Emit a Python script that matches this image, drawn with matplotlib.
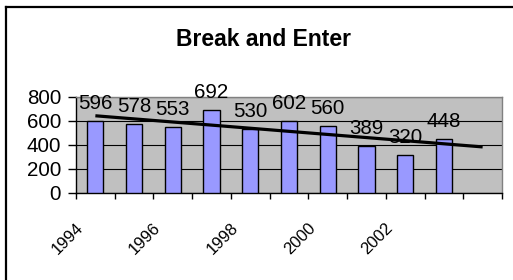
import matplotlib
matplotlib.use("Agg")
import matplotlib.pyplot as plt
import numpy as np
from matplotlib.lines import Line2D

years = [1994, 1995, 1996, 1997, 1998, 1999, 2000, 2001, 2002, 2003]
values = [596, 578, 553, 692, 530, 602, 560, 389, 320, 448]
year_labels = ["1994", "1996", "1998", "2000", "2002"]
yticks = [0, 200, 400, 600, 800]

plt.rcParams['font.family'] = ['Liberation Sans', 'DejaVu Sans']

W, H = 513, 280
fig = plt.figure(figsize=(W / 100, H / 100), dpi=100)
fig.patch.set_facecolor('white')

# outer chart border (only left and top visible)
fig.add_artist(Line2D([5.5 / W, 5.5 / W], [0, 1 - 6.5 / H], transform=fig.transFigure, color='black', lw=1.6))
fig.add_artist(Line2D([5.5 / W, 1], [1 - 6.5 / H, 1 - 6.5 / H], transform=fig.transFigure, color='black', lw=1.6))

ax = fig.add_axes([76 / W, 1 - 193 / H, (502 - 76) / W, (193 - 97) / H])
ax.set_facecolor('#C0C0C0')

x = np.arange(len(values))
ax.bar(x, values, width=0.42, color='#9999FF', edgecolor='black', linewidth=1.0, zorder=3)

# linear trendline with one period forward forecast
coef = np.polyfit(x, values, 1)
xt = np.array([0, len(values)])
ax.plot(xt, np.polyval(coef, xt), color='black', lw=2.3, zorder=4, solid_capstyle='butt')

for xi, v in zip(x, values):
    ax.annotate(str(v), xy=(xi, v), xytext=(0, 12), textcoords='offset pixels',
                ha='center', va='baseline', fontsize=14.8, zorder=5, annotation_clip=False)

ax.set_xlim(-0.5, len(values) + 0.5)
ax.set_ylim(0, 800)
ax.set_yticks(yticks)
ax.set_yticklabels([str(t) for t in yticks])
ax.yaxis.grid(True, color='black', lw=0.8, zorder=1)
ax.set_axisbelow(True)

ax.set_xticks(np.arange(-0.5, len(values) + 1, 1.0))
ax.set_xticklabels([])
ax.tick_params(axis='x', direction='out', length=4.5, width=1.0, color='black')
ax.tick_params(axis='y', direction='out', length=5.8, width=1.0, color='black', pad=5.0, labelsize=14.8)

for i, lab in enumerate(year_labels):
    ax.annotate(lab, xy=(2 * i, 0), xytext=(-28, -46), textcoords='offset pixels',
                ha='center', va='center', rotation=45, fontsize=12,
                family=['Liberation Sans Narrow', 'Liberation Sans', 'DejaVu Sans'],
                annotation_clip=False)

for s in ['left', 'bottom']:
    ax.spines[s].set_color('black')
    ax.spines[s].set_linewidth(1.0)
for s in ['top', 'right']:
    ax.spines[s].set_color('#808080')
    ax.spines[s].set_linewidth(1.0)

fig.text(263.5 / W, 1 - 46 / H, "Break and Enter", ha='center', va='baseline',
         fontsize=16.5, fontweight='bold')

fig.savefig('out.png', dpi=100)
